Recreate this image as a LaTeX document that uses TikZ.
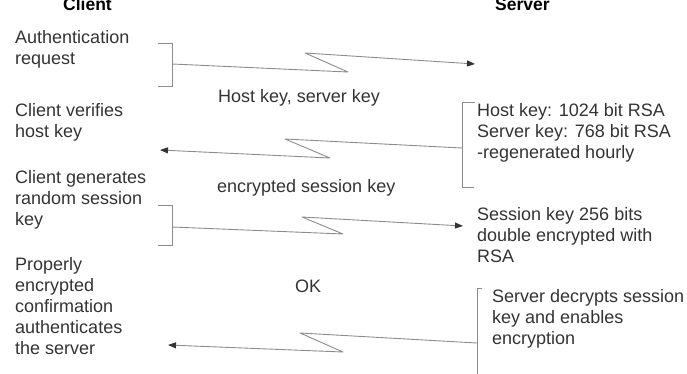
\documentclass[tikz,border=0pt]{standalone}
\usepackage{fontspec}
\setmainfont{Liberation Sans}
\usetikzlibrary{arrows.meta}
\definecolor{txt}{HTML}{333333}
\definecolor{ln}{HTML}{8C8C8C}
\begin{document}
\begin{tikzpicture}[x=1pt,y=-1pt,
  lbl/.style={anchor=base west, inner sep=0pt, align=left, text=txt, font=\fontsize{18}{21}\selectfont},
  hdr/.style={anchor=base west, inner sep=0pt, font=\fontsize{17.5}{21}\selectfont\bfseries},
  brk/.style={draw=ln, line width=0.9pt},
  arr/.style={draw=ln, line width=0.9pt, line join=round, -{Triangle[length=8pt,width=6pt,color=txt]}}]
\clip (0,0) rectangle (687,374);
\useasboundingbox (0,0) rectangle (687,374);
% headers (cut off at the top edge, as in the reference)
\node[hdr] (client) at (63,11) {Client};
\node[hdr] (server) at (495,11) {Server};
% client side (anchor = baseline of the last line)
\node[lbl] (authreq) at (15,65) {Authentication\\request};
\node[lbl] (verify) at (15,138) {Client verifies\\host key};
\node[lbl] (generate) at (15,225) {Client generates\\random session\\key};
\node[lbl] (confirm) at (15,354) {Properly\\encrypted\\confirmation\\authenticates\\the server};
% server side
\node[lbl] (keys) at (477,159) {Host key: 1024 bit RSA\\Server key: 768 bit RSA\\-regenerated hourly};
\node[lbl] (sesskey) at (477,262) {Session key 256 bits\\double encrypted with\\RSA};
\node[lbl] (decrypt) at (492,344) {Server decrypts session\\key and enables\\encryption};
% message labels
\node[lbl] (m1) at (218,103) {Host key, server key};
\node[lbl] (m2) at (217,192) {encrypted session key};
\node[lbl] (m3) at (295,292) {OK};
% brackets
\draw[brk] (158,43) -| (172,86) -- (158,86);
\draw[brk] (475,102) -| (462,187) -- (474,187);
\draw[brk] (158,205) -| (172,245) -- (158,245);
\draw[brk] (482,288) -| (477,380);
% connector ends
\coordinate (s1) at (172,64);  \coordinate (t1) at (475,64);
\coordinate (s2) at (462,148); \coordinate (t2) at (160,150);
\coordinate (s3) at (172,227); \coordinate (t3) at (463,226);
\coordinate (s4) at (477,343); \coordinate (t4) at (168,345);
% messages
\draw[arr] (s1) -- (348,72) -- (305,53) -- (t1);
\draw[arr] (s2) -- (285,139) -- (330,158) -- (t2);
\draw[arr] (s3) -- (343,234) -- (302,217) -- (t3);
\draw[arr] (s4) -- (300,333) -- (343,352) -- (t4);
\end{tikzpicture}
\end{document}
